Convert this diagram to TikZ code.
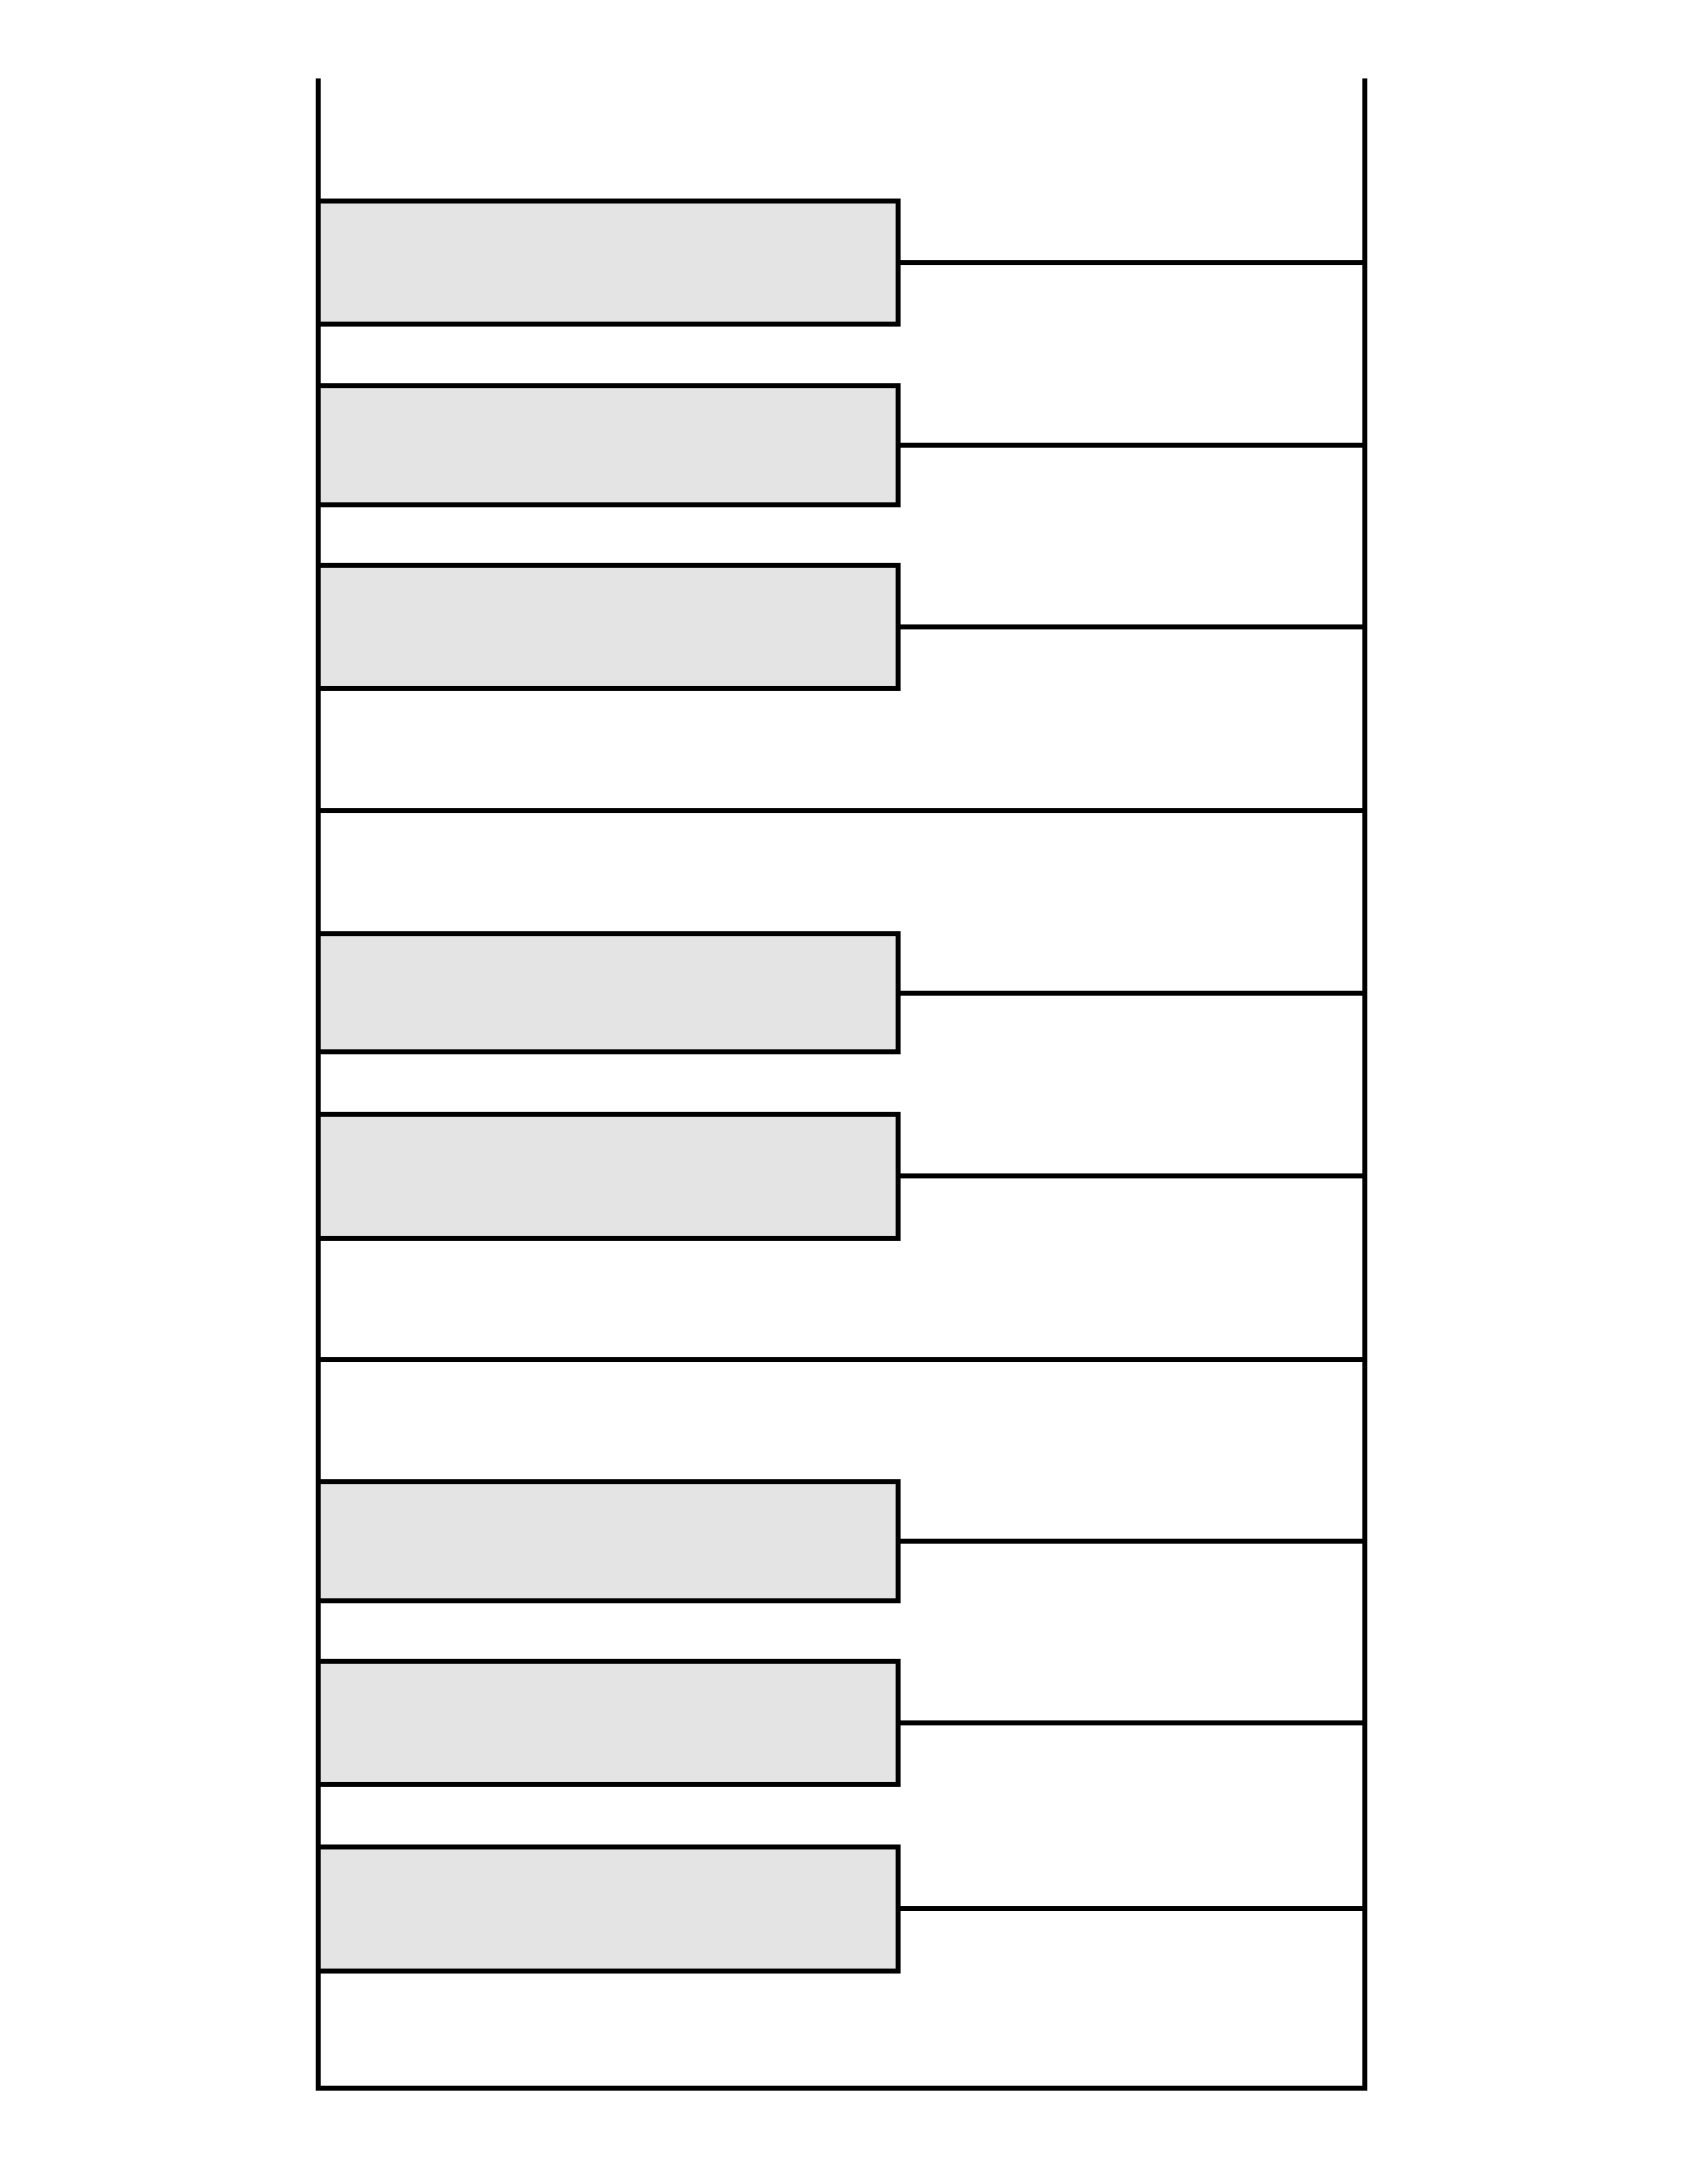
\documentclass[tikz,border=0pt]{standalone}
\definecolor{keygrey}{RGB}{228,228,228}
\tikzset{
  keybox/.style={draw=black, fill=keygrey, line width=5pt, minimum width=584pt, inner sep=0pt, outer sep=0pt, rectangle},
  rail/.style={draw=black, line width=5pt},
  link/.style={draw=black, line width=5pt}
}
\begin{document}
\begin{tikzpicture}[x=1pt,y=-1pt]
\useasboundingbox (0,0) rectangle (1700,2200);
% frame coordinates
\coordinate (tl) at (320,79);
\coordinate (tr) at (1374,79);
\coordinate (bl) at (320,2103);
\coordinate (br) at (1374,2103);
\coordinate (s1l) at (320,816);
\coordinate (s1r) at (1374,816);
\coordinate (s2l) at (320,1369);
\coordinate (s2r) at (1374,1369);
% keys
\node[keybox, minimum height=124pt] (k1) at (612,264) {};
\node[keybox, minimum height=120pt] (k2) at (612,448.5) {};
\node[keybox, minimum height=124pt] (k3) at (612,631) {};
\node[keybox, minimum height=119pt] (k4) at (612,1000) {};
\node[keybox, minimum height=125pt] (k5) at (612,1184.5) {};
\node[keybox, minimum height=120pt] (k6) at (612,1552) {};
\node[keybox, minimum height=124pt] (k7) at (612,1735) {};
\node[keybox, minimum height=125pt] (k8) at (612,1922.5) {};
% frame
\draw[rail] (tl) -- (bl) -- (br) -- (tr);
\draw[rail] (s1l) -- (s1r);
\draw[rail] (s2l) -- (s2r);
% links
\foreach \k in {k1,k2,k3,k4,k5,k6,k7,k8}{
  \coordinate (\k r) at (\k.east -| tr);
  \draw[link] (\k.east) -- (\k r);
}
\end{tikzpicture}
\end{document}
